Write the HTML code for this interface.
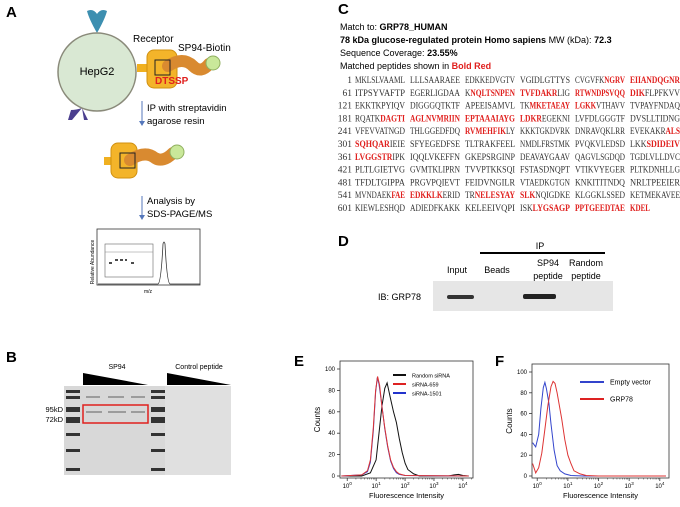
<!DOCTYPE html>
<html><head><meta charset="utf-8"><style>
html,body{margin:0;padding:0;background:#fff;width:680px;height:507px;overflow:hidden}
svg{display:block;font-family:"Liberation Sans",sans-serif}
.seq{font-family:"Liberation Serif",serif;font-size:9.5px;fill:#333}
.r{fill:#e0201e;font-weight:bold}
</style></head><body>
<svg id="fig" width="680" height="507" viewBox="0 0 680 507">
<!-- Panel A -->
<g>
<text x="6" y="17" font-size="15" font-weight="bold">A</text>
<path d="M97,33 q-8,-14 -10,-22 q6,-3 10,3 q4,-6 10,-3 q-2,8 -10,22z" fill="#3d8fb0"/>
<path d="M82,108 l-10,12 h-4 l3,-10 q5,0 11,-2z M82,108 l6,12 h-4z" fill="#4b3f8f"/>
<circle cx="97" cy="72" r="39" fill="#d9e8d3" stroke="#8a8a7a" stroke-width="1.5"/>
<text x="97" y="75" font-size="11" text-anchor="middle">HepG2</text>
<text x="133" y="42" font-size="10">Receptor</text>
<text x="178" y="51" font-size="10">SP94-Biotin</text>
<rect x="137" y="64" width="12" height="8" fill="#f0b020"/>
<rect x="147" y="50" width="30" height="38" rx="7" fill="#f3b42a" stroke="#d09010"/>
<path d="M168,66 q15,-10 25,0 q8,8 16,-2" stroke="#d98a30" stroke-width="12" fill="none" stroke-linecap="round"/>
<rect x="155" y="60" width="15" height="15" fill="none" stroke="#222"/>
<circle cx="213" cy="63" r="7" fill="#c9e89a" stroke="#90b060"/>
<text x="155" y="84" font-size="10" font-weight="bold" fill="#e0201e">DTSSP</text>
<line x1="142" y1="101" x2="142" y2="122" stroke="#5577bb"/>
<path d="M139,121 l3,5 l3,-5z" fill="#5577bb"/>
<text x="147" y="111" font-size="9.5">IP with streptavidin</text>
<text x="147" y="124" font-size="9.5">agarose resin</text>
<rect x="104" y="157" width="10" height="8" fill="#f0b020"/>
<rect x="111" y="143" width="26" height="35" rx="7" fill="#f3b42a" stroke="#d09010"/>
<path d="M130,160 q15,-10 25,-2 q8,5 18,-5" stroke="#d98a30" stroke-width="12" fill="none" stroke-linecap="round"/>
<rect x="120" y="153" width="15" height="15" fill="none" stroke="#222"/>
<circle cx="177" cy="152" r="7" fill="#c9e89a" stroke="#90b060"/>
<line x1="142" y1="196" x2="142" y2="216" stroke="#5577bb"/>
<path d="M139,215 l3,5 l3,-5z" fill="#5577bb"/>
<text x="147" y="204" font-size="9.5">Analysis by</text>
<text x="147" y="217" font-size="9.5">SDS-PAGE/MS</text>
<rect x="97" y="229" width="103" height="56" fill="#fff" stroke="#333" stroke-width="0.8"/>
<rect x="105" y="244" width="48" height="33" fill="none" stroke="#666" stroke-width="0.6"/>
<path d="M105,252 h48" stroke="#888" stroke-width="0.5"/>
<path d="M109,263 h4 M131,263 h4 M115,260 h12" stroke="#111" stroke-width="1.5" stroke-dasharray="3,2"/>
<path d="M98,284 h60 q3,-1 5,-40 q1,-4 2,0 q2,39 5,40 h30" stroke="#333" fill="none" stroke-width="0.8"/>
<text x="94" y="262" font-size="5" transform="rotate(-90 94 262)" text-anchor="middle">Relative Abundance</text>
<text x="148" y="293" font-size="5" text-anchor="middle">m/z</text>
</g>
<!-- Panel B -->
<g>
<text x="6" y="362" font-size="15" font-weight="bold">B</text>
<text x="117" y="369" font-size="7" text-anchor="middle">SP94</text>
<text x="199" y="369" font-size="7" text-anchor="middle">Control peptide</text>
<path d="M83,373 v12 h65z" fill="#000"/>
<path d="M167,373 v12 h64z" fill="#000"/>
<rect x="64" y="386" width="167" height="89" fill="#d8d8d8"/>
<rect x="165" y="386" width="66" height="89" fill="#e0e0e0"/>
<g fill="#333">
<rect x="66" y="390" width="14" height="3"/><rect x="66" y="396" width="14" height="3"/><rect x="66" y="407" width="14" height="5"/><rect x="66" y="417" width="14" height="6"/><rect x="66" y="433" width="14" height="3"/><rect x="66" y="449" width="14" height="3"/><rect x="66" y="468" width="14" height="3"/>
<rect x="151" y="390" width="14" height="3"/><rect x="151" y="396" width="14" height="3"/><rect x="151" y="407" width="14" height="5"/><rect x="151" y="417" width="14" height="6"/><rect x="151" y="433" width="14" height="3"/><rect x="151" y="449" width="14" height="3"/><rect x="151" y="468" width="14" height="3"/>
</g>
<path d="M86,397 h14 M108,397 h16 M131,397 h14 M86,412 h16 M108,412 h18 M131,412 h14" stroke="#777" stroke-width="1.2"/>
<rect x="83" y="405" width="65" height="18" fill="none" stroke="#e0201e" stroke-width="1.5"/>
<text x="63" y="412" font-size="7.5" text-anchor="end">95kD</text>
<text x="63" y="422" font-size="7.5" text-anchor="end">72kD</text>
</g>
<!-- Panel C -->
<g>
<text x="338" y="14" font-size="15" font-weight="bold">C</text>
<text x="340" y="30" font-size="9">Match to: <tspan font-weight="bold">GRP78_HUMAN</tspan></text>
<text x="340" y="43" font-size="9"><tspan font-weight="bold">78 kDa glucose-regulated protein Homo sapiens</tspan> MW (kDa): <tspan font-weight="bold">72.3</tspan></text>
<text x="340" y="56" font-size="9">Sequence Coverage: <tspan font-weight="bold">23.55%</tspan></text>
<text x="340" y="69" font-size="9">Matched peptides shown in <tspan font-weight="bold" fill="#e0201e">Bold Red</tspan></text>
<g id="seqg"></g>
</g>
<!-- Panel D -->
<g>
<text x="338" y="246" font-size="15" font-weight="bold">D</text>
<text x="540" y="249" font-size="9" text-anchor="middle">IP</text>
<line x1="480" y1="253" x2="605" y2="253" stroke="#000" stroke-width="2"/>
<text x="457" y="273" font-size="9" text-anchor="middle">Input</text>
<text x="497" y="273" font-size="9" text-anchor="middle">Beads</text>
<text x="548" y="266" font-size="9" text-anchor="middle">SP94</text>
<text x="548" y="279" font-size="9" text-anchor="middle">peptide</text>
<text x="586" y="266" font-size="9" text-anchor="middle">Random</text>
<text x="586" y="279" font-size="9" text-anchor="middle">peptide</text>
<text x="378" y="300" font-size="9">IB: GRP78</text>
<rect x="433" y="281" width="180" height="30" fill="#e6e6e6"/>
<rect x="447" y="295" width="27" height="4" rx="2" fill="#333"/>
<rect x="523" y="294" width="33" height="5" rx="2" fill="#222"/>
</g>
<!-- Panels E,F -->
<text x="294" y="366" font-size="15" font-weight="bold">E</text>
<text x="495" y="366" font-size="15" font-weight="bold">F</text>
<g id="chartE"></g>
<g id="chartF"></g>
</svg>
<script>
// Sequence rows (brackets = matched peptides)
const seqNums = [1,61,121,181,241,301,361,421,481,541,601];
const seqRows = [
"MKLSLVAAML LLLSAARAEE EDKKEDVGTV VGIDLGTTYS CVGVFK[NGRV] [EIIANDQGNR]",
"ITPSYVAFTP EGERLIGDAA K[NQLTSNPEN] [TVFDAKR]LIG [RTWNDPSVQQ] [DIK]FLPFKVV",
"EKKTKPYIQV DIGGGQTKTF APEEISAMVL TK[MKETAEAY] [LGKK]VTHAVV TVPAYFNDAQ",
"RQATK[DAGTI] [AGLNVMRIIN] [EPTAAAIAYG] [LDKR]EGEKNI LVFDLGGGTF DVSLLTIDNG",
"VFEVVATNGD THLGGEDFDQ [RVMEHFIK]LY KKKTGKDVRK DNRAVQKLRR EVEKAKR[ALS]",
"[SQHQAR]IEIE SFYEGEDFSE TLTRAKFEEL NMDLFRSTMK PVQKVLEDSD LKK[SDIDEIV]",
"[LVGGSTR]IPK IQQLVKEFFN GKEPSRGINP DEAVAYGAAV QAGVLSGDQD TGDLVLLDVC",
"PLTLGIETVG GVMTKLIPRN TVVPTKKSQI FSTASDNQPT VTIKVYEGER PLTKDNHLLG",
"TFDLTGIPPA PRGVPQIEVT FEIDVNGILR VTAEDKGTGN KNKITITNDQ NRLTPEEIER",
"MVNDAEK[FAE] [EDKKLK]ERID TR[NELESYAY] [SLK]NQIGDKE KLGGKLSSED KETMEKAVEE",
"KIEWLESHQD ADIEDFKAKK KELEEIVQPI ISK[LYGSAGP] [PPTGEEDTAE] [KDEL]"];
const NS='http://www.w3.org/2000/svg';
const sg=document.getElementById('seqg');
seqRows.forEach((row,i)=>{
  const y=83+i*12.8;
  const n=document.createElementNS(NS,'text');
  n.setAttribute('x',352);n.setAttribute('y',y);n.setAttribute('text-anchor','end');n.setAttribute('class','seq');
  
  
  n.textContent=seqNums[i];sg.appendChild(n);
  row.split(' ').forEach((grp,j)=>{
    const t=document.createElementNS(NS,'text');
    t.setAttribute('x',355+j*55);t.setAttribute('y',y);t.setAttribute('class','seq');
    
    
    const len=grp.replace(/[\[\]]/g,'').length;
    t.setAttribute('textLength',(len*5.0).toFixed(1));t.setAttribute('lengthAdjust','spacingAndGlyphs');
    grp.split(/(\[[^\]]*\])/).forEach(p=>{
      if(!p)return;
      const s=document.createElementNS(NS,'tspan');
      if(p[0]==='['){s.setAttribute('class','r');p=p.slice(1,-1);}
      s.textContent=p;t.appendChild(s);
    });
    sg.appendChild(t);
  });
});

// Chart E data (x = log10 fluorescence, y = counts)
const eRandomX=[-0.2,0.5,0.8,1.0,1.1,1.2,1.3,1.38,1.5,1.6,1.7,1.8,1.9,2.0,2.1,2.3,2.5,3.5,3.7,3.85,4.0,4.2];
const eRandomY=[0,0,3,15,40,65,82,87,72,60,50,35,22,12,6,2,0,0,1,1.5,0.5,0];
const e659X=[-0.2,0.5,0.7,0.8,0.9,0.98,1.05,1.12,1.2,1.3,1.4,1.5,1.6,1.7,1.8,2.0,4.2];
const e659Y=[0,1,5,15,45,80,93,85,65,45,28,15,8,4,2,0.5,0];
const e1501X=[-0.2,0.5,0.7,0.8,0.9,0.98,1.04,1.1,1.2,1.3,1.4,1.5,1.6,1.7,1.8,2.0,4.2];
const e1501Y=[0,1,4,13,42,78,92,86,66,44,27,14,7,3,1.5,0.5,0];
// Chart F data
const fEmptyX=[-0.15,-0.05,0.05,0.12,0.2,0.25,0.3,0.38,0.45,0.55,0.65,0.75,0.9,1.1,1.5,4.2];
const fEmptyY=[32,28,40,65,85,90,84,70,50,25,10,5,2,0.5,0,0];
const fGrpX=[-0.15,-0.05,0.05,0.15,0.25,0.35,0.45,0.52,0.58,0.65,0.8,0.9,1.0,1.1,1.2,1.4,1.6,2.0,4.2];
const fGrpY=[12,3,8,22,45,68,86,91,89,80,55,35,20,12,5,2,0.5,0,0];
const yTicks=[0,20,40,60,80,100];
const xDecades=[0,1,2,3,4];

function chart(g,box,xmin,xmax,series,legend){
  const sx=v=>box.x+(v-xmin)/(xmax-xmin)*box.w;
  const sy=v=>box.y+box.h-2-(v/100)*(box.h-10);
  const mk=(tag,attrs,name)=>{const e=document.createElementNS(NS,tag);for(const k in attrs)e.setAttribute(k,attrs[k]);
    
    
    g.appendChild(e);return e;};
  mk('rect',{x:box.x,y:box.y,width:box.w,height:box.h,fill:'none',stroke:'#333','stroke-width':0.8},'plot-frame');
  yTicks.forEach(t=>{mk('line',{x1:box.x-3,x2:box.x,y1:sy(t),y2:sy(t),stroke:'#333','stroke-width':0.8},'y-tick');
    const l=mk('text',{x:box.x-5,y:sy(t)+2,'font-size':6,'text-anchor':'end'},'y-tick-label');l.textContent=t;});
  xDecades.forEach(d=>{mk('line',{x1:sx(d),x2:sx(d),y1:box.y+box.h,y2:box.y+box.h+3,stroke:'#333','stroke-width':0.8},'x-tick');
    for(let k=2;k<10;k++){const v=d+Math.log10(k);if(v<xmax)mk('line',{x1:sx(v),x2:sx(v),y1:box.y+box.h,y2:box.y+box.h+1.5,stroke:'#333','stroke-width':0.5},'x-minor-tick');}
    const l=mk('text',{x:sx(d),y:box.y+box.h+10,'font-size':6,'text-anchor':'middle'},'x-tick-label');
    l.textContent='10';const s=document.createElementNS(NS,'tspan');s.setAttribute('dy',-3);s.setAttribute('font-size',4.5);s.textContent=d;l.appendChild(s);});
  const xt=mk('text',{x:box.x+box.w/2,y:box.y+box.h+20,'font-size':7.5,'text-anchor':'middle'},'x-axis-title');xt.textContent='Fluorescence Intensity';
  const yt=mk('text',{x:box.x-20,y:box.y+box.h/2,'font-size':8,'text-anchor':'middle',transform:`rotate(-90 ${box.x-20} ${box.y+box.h/2})`},'y-axis-title');yt.textContent='Counts';
  series.forEach(s=>{
    const pts=s.x.map((v,i)=>sx(Math.max(xmin,Math.min(xmax,v))).toFixed(1)+','+sy(s.y[i]).toFixed(1)).join(' ');
    mk('polyline',{points:pts,fill:'none',stroke:s.c,'stroke-width':1},s.name);
  });
  legend.forEach((L,i)=>{
    mk('line',{x1:L.x,x2:L.x+L.w,y1:L.y+i*L.dy,y2:L.y+i*L.dy,stroke:L.c,'stroke-width':2},'legend-swatch');
    const t=mk('text',{x:L.x+L.w+6,y:L.y+i*L.dy+2.5,'font-size':L.fs},'legend-entry');t.textContent=L.t;
  });
}
chart(document.getElementById('chartE'),{x:340,y:361,w:133,h:117},-0.25,4.35,
 [{x:eRandomX,y:eRandomY,c:'#111',name:'series-random-sirna'},{x:e1501X,y:e1501Y,c:'#3344cc',name:'series-sirna-1501'},{x:e659X,y:e659Y,c:'#dd3333',name:'series-sirna-659'}],
 [{x:393,y:375,w:13,dy:9,c:'#111',t:'Random siRNA',fs:5.5},{x:393,y:375,w:13,dy:9,c:'#dd2222',t:'siRNA-659',fs:5.5},{x:393,y:375,w:13,dy:9,c:'#2233cc',t:'siRNA-1501',fs:5.5}]);
chart(document.getElementById('chartF'),{x:532,y:364,w:137,h:114},-0.17,4.3,
 [{x:fEmptyX,y:fEmptyY,c:'#3344cc',name:'series-empty-vector'},{x:fGrpX,y:fGrpY,c:'#dd3333',name:'series-grp78'}],
 [{x:580,y:382,w:24,dy:17,c:'#3344cc',t:'Empty vector',fs:7},{x:580,y:382,w:24,dy:17,c:'#dd2222',t:'GRP78',fs:7}]);
</script>
</body></html>
